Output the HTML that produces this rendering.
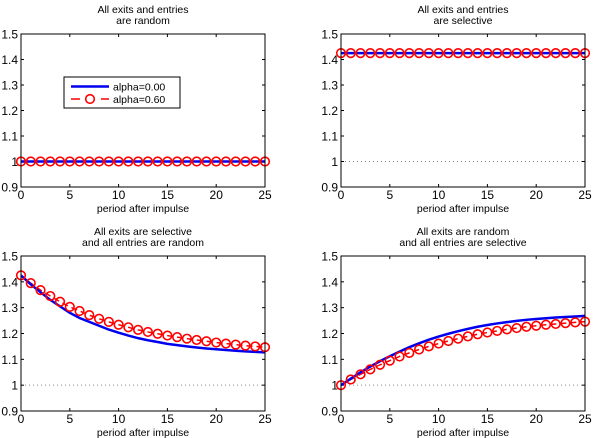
<!DOCTYPE html>
<html><head><meta charset="utf-8">
<style>
html,body{margin:0;padding:0;background:#fff;}
svg{display:block;font-family:"Liberation Sans",Arial,sans-serif;}
</style></head>
<body>
<svg id="fig" width="600" height="438" viewBox="0 0 600 438" xmlns="http://www.w3.org/2000/svg"></svg>
<script>
const periods = [0,1,2,3,4,5,6,7,8,9,10,11,12,13,14,15,16,17,18,19,20,21,22,23,24,25];
const yTicks = [0.9,1.0,1.1,1.2,1.3,1.4,1.5];
const yTickLabels = ["0.9","1","1.1","1.2","1.3","1.4","1.5"];
const xTicks = [0,5,10,15,20,25];
const p1Blue = [1,1,1,1,1,1,1,1,1,1,1,1,1,1,1,1,1,1,1,1,1,1,1,1,1,1];
const p1Red  = [1,1,1,1,1,1,1,1,1,1,1,1,1,1,1,1,1,1,1,1,1,1,1,1,1,1];
const p2Blue = [1.425,1.425,1.425,1.425,1.425,1.425,1.425,1.425,1.425,1.425,1.425,1.425,1.425,1.425,1.425,1.425,1.425,1.425,1.425,1.425,1.425,1.425,1.425,1.425,1.425,1.425];
const p2Red  = [1.425,1.425,1.425,1.425,1.425,1.425,1.425,1.425,1.425,1.425,1.425,1.425,1.425,1.425,1.425,1.425,1.425,1.425,1.425,1.425,1.425,1.425,1.425,1.425,1.425,1.425];
const p3Blue = [1.425,1.39,1.36,1.33,1.305,1.28,1.26,1.245,1.23,1.215,1.203,1.192,1.182,1.174,1.167,1.16,1.155,1.15,1.146,1.142,1.139,1.136,1.133,1.131,1.129,1.127];
const p3Red  = [1.425,1.395,1.368,1.345,1.323,1.303,1.287,1.271,1.257,1.245,1.234,1.224,1.214,1.206,1.199,1.192,1.186,1.180,1.175,1.170,1.165,1.161,1.157,1.153,1.150,1.147];
const p4Blue = [1.0,1.025,1.05,1.072,1.093,1.112,1.13,1.147,1.162,1.176,1.188,1.199,1.209,1.218,1.226,1.233,1.239,1.244,1.249,1.253,1.256,1.259,1.262,1.264,1.266,1.268];
const p4Red  = [1.0,1.022,1.042,1.061,1.079,1.095,1.111,1.125,1.138,1.150,1.161,1.171,1.180,1.189,1.197,1.204,1.210,1.216,1.221,1.226,1.230,1.234,1.237,1.240,1.243,1.246];
const titles = [["All exits and entries","are random"],["All exits and entries","are selective"],["All exits are selective","and all entries are random"],["All exits are random","and all entries are selective"]];

const NS="http://www.w3.org/2000/svg";
const svg=document.getElementById('fig');
function mk(tag,attrs,parent){const e=document.createElementNS(NS,tag);for(const k in attrs)e.setAttribute(k,attrs[k]);(parent||svg).appendChild(e);return e;}

const panels=[
 {x0:21,x1:265,y0:34,y1:187,blue:p1Blue,red:p1Red,legend:true,dotted:false},
 {x0:341,x1:585,y0:34,y1:187,blue:p2Blue,red:p2Red,legend:false,dotted:true},
 {x0:21,x1:265,y0:256,y1:411,blue:p3Blue,red:p3Red,legend:false,dotted:true},
 {x0:341,x1:585,y0:256,y1:411,blue:p4Blue,red:p4Red,legend:false,dotted:true}
];

panels.forEach((p,i)=>{
  const g=mk('g',{});
  
  
  const sx=v=>p.x0+(v-0)/(25-0)*(p.x1-p.x0);
  const sy=v=>p.y1-(v-0.9)/(1.5-0.9)*(p.y1-p.y0);
  const cx=(p.x0+p.x1)/2;
  const t=mk('text',{x:cx,y:p.y0-21,'text-anchor':'middle','font-size':'10.5'},g);
  t.textContent=titles[i][0];
  
  
  const t2=mk('text',{x:cx,y:p.y0-10,'text-anchor':'middle','font-size':'10.5'},g);
  t2.textContent=titles[i][1];
  
  
  if(p.dotted){
    const d=mk('line',{x1:p.x0,x2:p.x1,y1:sy(1),y2:sy(1),stroke:'#888','stroke-width':1,'stroke-dasharray':'1,3'},g);
    
    
  }
  yTicks.forEach((v,k)=>{
    const y=sy(v);
    mk('line',{x1:p.x0,x2:p.x0+3,y1:y,y2:y,stroke:'#000','stroke-width':1},g);
    mk('line',{x1:p.x1,x2:p.x1-3,y1:y,y2:y,stroke:'#000','stroke-width':1},g);
    const l=mk('text',{x:p.x0-3,y:y+4.5,'text-anchor':'end','font-size':'12'},g);
    l.textContent=yTickLabels[k];
    
    
  });
  xTicks.forEach(v=>{
    const x=sx(v);
    mk('line',{x1:x,x2:x,y1:p.y1,y2:p.y1-3,stroke:'#000','stroke-width':1},g);
    mk('line',{x1:x,x2:x,y1:p.y0,y2:p.y0+3,stroke:'#000','stroke-width':1},g);
    const l=mk('text',{x:x,y:p.y1+12,'text-anchor':'middle','font-size':'12'},g);
    l.textContent=String(v);
    
    
  });
  const xl=mk('text',{x:cx,y:p.y1+25,'text-anchor':'middle','font-size':'10.5'},g);
  xl.textContent='period after impulse';
  
  
  // red dashed line + markers
  const rp=periods.map((t,k)=>sx(t)+','+sy(p.red[k])).join(' ');
  const rl=mk('polyline',{points:rp,fill:'none',stroke:'#f00','stroke-width':1.5,'stroke-dasharray':'6,4'},g);
  
  
  const bp=periods.map((t,k)=>sx(t)+','+sy(p.blue[k])).join(' ');
  const bl=mk('polyline',{points:bp,fill:'none',stroke:'#0000ee','stroke-width':2.5},g);
  
  
  periods.forEach((t,k)=>{
    const c=mk('circle',{cx:sx(t),cy:sy(p.red[k]),r:4.3,fill:'none',stroke:'#f00','stroke-width':1.6},g);
    
    
  });
  const box=mk('rect',{x:p.x0,y:p.y0,width:p.x1-p.x0,height:p.y1-p.y0,fill:'none',stroke:'#000','stroke-width':1},g);
  
  
  if(p.legend){
    const lg=mk('g',{},g);
    
    
    mk('rect',{x:64,y:77,width:116,height:31,fill:'#fff',stroke:'#000','stroke-width':1},lg);
    mk('line',{x1:71,x2:109,y1:86.5,y2:86.5,stroke:'#0000ee','stroke-width':2.5},lg);
    const a=mk('text',{x:113,y:90.5,'font-size':'10.5'},lg);
    a.textContent='alpha=0.00';
    
    
    mk('line',{x1:71,x2:109,y1:99,y2:99,stroke:'#f00','stroke-width':1.5,'stroke-dasharray':'9,6'},lg);
    mk('circle',{cx:90,cy:99,r:4.3,fill:'#fff',stroke:'#f00','stroke-width':1.6},lg);
    const b=mk('text',{x:113,y:103,'font-size':'10.5'},lg);
    b.textContent='alpha=0.60';
    
    
  }
});
</script>
</body></html>
